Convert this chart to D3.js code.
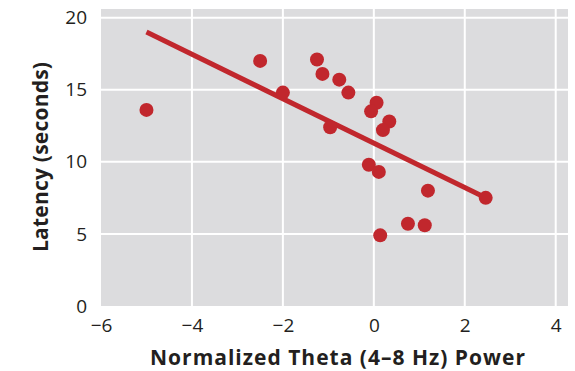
<!DOCTYPE html>
<html><head><meta charset="utf-8">
<script src="https://cdn.jsdelivr.net/npm/d3@7/dist/d3.min.js"></script>
<style>
body{margin:0;background:#fff;}
text{font-family:"Open Sans","Noto Sans",sans-serif;fill:#231f20;}
</style></head><body>
<svg id="c" width="575" height="371"></svg>
<script>
const thetaPower = [-5.0,-2.5,-2.0,-1.25,-1.13,-0.76,-0.56,-0.96,0.06,-0.06,0.34,0.2,-0.11,0.11,1.19,2.46,0.75,1.12,0.14];
const latency    = [13.6,17.0,14.8,17.1,16.1,15.7,14.8,12.4,14.1,13.5,12.8,12.2,9.8,9.3,8.0,7.5,5.7,5.6,4.9];
const fitX = [-5.0, 2.46];
const fitY = [19.0, 7.5];
const xTicks = [-6,-4,-2,0,2,4];
const yTicks = [0,5,10,15,20];

const svg = d3.select("#c");
const L=101,R=568,T=9,B=306;
const x = d3.scaleLinear().domain([-6,4.27]).range([L,R]);
const y = d3.scaleLinear().domain([0,20.6]).range([B,T]);

svg.append("rect").attr("x",L).attr("y",T).attr("width",R-L).attr("height",B-T).attr("fill","#dcdcde");
svg.append("g").selectAll("line").data(xTicks.filter(d=>d>-6)).join("line")
  .attr("x1",d=>x(d)).attr("x2",d=>x(d)).attr("y1",T).attr("y2",B)
  .attr("stroke","#fff").attr("stroke-width",2);
svg.append("g").selectAll("line").data(yTicks.filter(d=>d>0)).join("line")
  .attr("x1",L).attr("x2",R).attr("y1",d=>y(d)).attr("y2",d=>y(d))
  .attr("stroke","#fff").attr("stroke-width",2);

const fmt = d => d<0 ? "\u2212"+Math.abs(d) : ""+d;
const xa = svg.append("g").attr("transform",`translate(0,${B})`)
  .call(d3.axisBottom(x).tickValues(xTicks).tickFormat(fmt).tickSize(0).tickPadding(13));
xa.select(".domain").remove();
xa.selectAll("text").attr("font-size",19).attr("font-family",null).attr("fill","#2a2a2c");
const ya = svg.append("g").attr("transform",`translate(${L},0)`)
  .call(d3.axisLeft(y).tickValues(yTicks).tickFormat(fmt).tickSize(0).tickPadding(14));
ya.select(".domain").remove();
ya.selectAll("text").attr("font-size",19).attr("font-family",null).attr("fill","#2a2a2c");

svg.append("line").attr("x1",x(fitX[0])).attr("y1",y(fitY[0])).attr("x2",x(fitX[1])).attr("y2",y(fitY[1]))
  .attr("stroke","#c1272d").attr("stroke-width",5);
svg.append("g").selectAll("circle").data(thetaPower.map((d,i)=>[d,latency[i]])).join("circle")
  .attr("cx",d=>x(d[0])).attr("cy",d=>y(d[1])).attr("r",7).attr("fill","#c1272d");

svg.append("text").attr("x",150).attr("y",365)
  .attr("font-size",21).attr("font-weight","bold")
  .attr("textLength",375).attr("lengthAdjust","spacing")
  .text("Normalized Theta (4\u20138 Hz) Power");
svg.append("text").attr("transform","translate(48,252) rotate(-90)")
  .attr("font-size",21).attr("font-weight","bold")
  .attr("textLength",190).attr("lengthAdjust","spacing")
  .text("Latency (seconds)");
</script></body></html>
